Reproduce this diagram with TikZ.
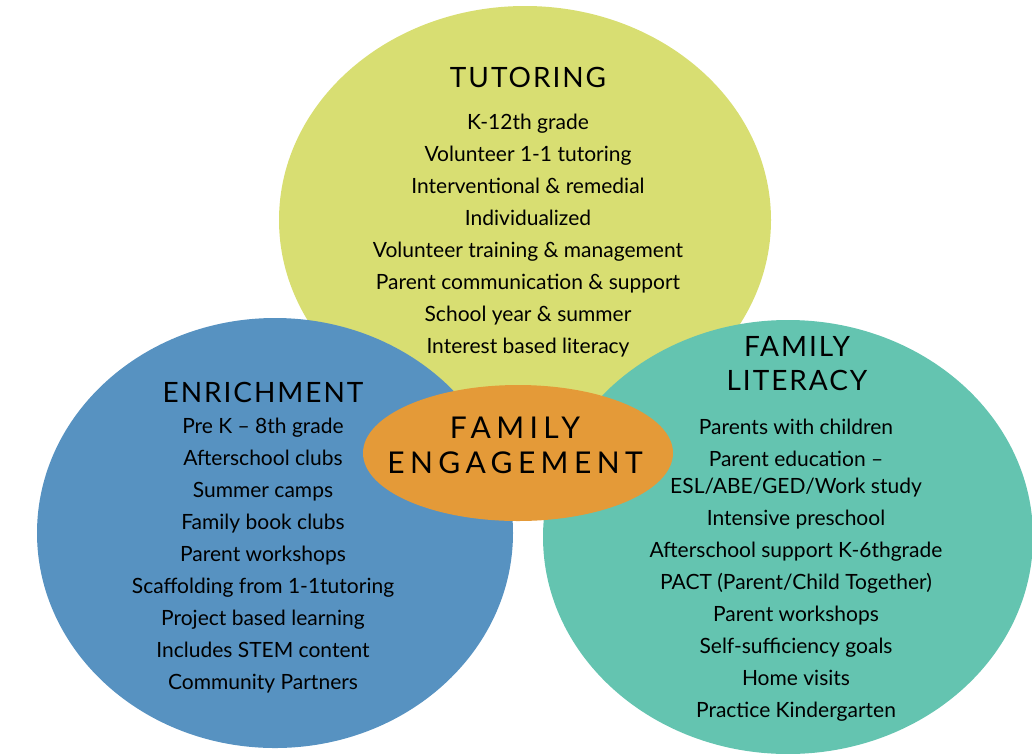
\documentclass[tikz,border=0pt]{standalone}
\usepackage{fontspec}
\setmainfont{Lato}
\newfontfamily\headfont[LetterSpace=7]{Lato}
\newfontfamily\hubfont[LetterSpace=18]{Lato}
\usetikzlibrary{shapes.geometric}

\definecolor{tutorcol}{RGB}{216,222,114}
\definecolor{enrichcol}{RGB}{87,146,193}
\definecolor{literacycol}{RGB}{100,196,176}
\definecolor{engagecol}{RGB}{228,154,56}

\begin{document}
\begin{tikzpicture}[x=1pt,y=-1pt,
    blob/.style={shape=ellipse,inner sep=0pt},
    heading/.style={font=\headfont\fontsize{28}{34}\selectfont,align=center},
    items/.style={font=\fontsize{21}{32}\selectfont,align=center}]
    \useasboundingbox (0,0) rectangle (1032,753);
    % the three circles and the hub
    \node[blob,fill=tutorcol,minimum width=492pt,minimum height=428pt] (tutoring) at (525,220) {};
    \node[blob,fill=enrichcol,minimum width=476pt,minimum height=430pt] (enrichment) at (275,533) {};
    \node[blob,fill=literacycol,minimum width=490pt,minimum height=434pt] (literacy) at (788,537) {};
    \node[blob,fill=engagecol,minimum width=310pt,minimum height=136pt] (engage) at (518,453) {};
    % tutoring
    \node[heading] (tutorhead) at (528,77) {TUTORING};
    \node[items] (tutorlist) at (528,236) {K-12th grade\\Volunteer 1-1 tutoring\\Interventional \& remedial\\Individualized\\Volunteer training \& management\\Parent communication \& support\\School year \& summer\\Interest based literacy};
    % enrichment
    \node[heading] (enrichhead) at (263,392) {ENRICHMENT};
    \node[items] (enrichlist) at (263,556) {Pre K -- 8th grade\\Afterschool clubs\\Summer camps\\Family book clubs\\Parent workshops\\Scaffolding from 1-1tutoring\\Project based learning\\Includes STEM content\\Community Partners};
    % family literacy
    \node[heading] (literacyhead) at (797,364) {FAMILY\\LITERACY};
    \node[items] (literacylist) at (796,570) {Parents with children\\Parent education --\\[-5pt]ESL/ABE/GED/Work study\\Intensive preschool\\Afterschool support K-6thgrade\\PACT (Parent/Child Together)\\Parent workshops\\Self-sufficiency goals\\Home visits\\Practice Kindergarten};
    % hub
    \node[font=\hubfont\fontsize{30}{35}\selectfont,align=center] (engagetext) at (515,445) {FAMILY\\ENGAGEMENT};
\end{tikzpicture}
\end{document}
